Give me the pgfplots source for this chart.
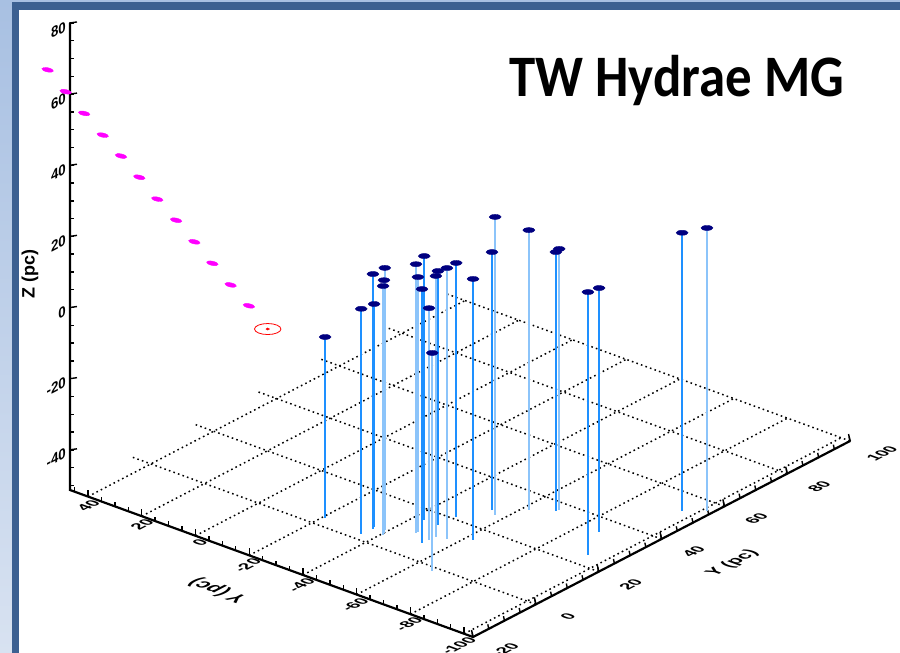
\documentclass[border=0pt]{standalone}
\usepackage{pgfplots}
\pgfplotsset{compat=1.18}
\usepackage{pgfplotstable}
\usepackage{fontspec}
\setmainfont{Liberation Sans}
\newfontfamily\titlefont{Carlito}

\pgfdeclarelayer{background}
\pgfsetlayers{background,main}

\definecolor{framedark}{RGB}{60,96,145}
\definecolor{frametop}{RGB}{168,192,226}
\definecolor{framebot}{RGB}{216,226,241}
\definecolor{dropdark}{RGB}{30,144,255}
\definecolor{droplight}{RGB}{140,196,250}
\definecolor{starnavy}{RGB}{0,0,128}
\definecolor{trackmag}{RGB}{255,0,255}
\definecolor{refred}{RGB}{255,0,0}

% Group members, positions in pc; drop lines in the darker blue
\pgfplotstableread{
x y z
-20.9 3.4 -0.4
-35.5 2.4 12.0
-35.4 6.6 11.4
-36.0 5.7 20.4
-43.4 15.7 22.9
-52.6 7.1 20.1
-48.5 15.7 20.1
-49.1 21.0 20.1
-62.5 14.9 22.1
-54.0 28.2 21.2
-68.4 36.2 21.5
-93.9 24.6 22.6
-86.7 34.3 17.3
-96.0 52.8 26.9
}\groupA

% Group members, drop lines in the lighter blue
\pgfplotstableread{
x y z
-40.7 4.9 18.7
-40.1 5.7 19.8
-39.0 6.9 22.4
-47.1 9.9 24.3
-47.1 10.5 20.4
-52.9 9.1 13.9
-66.6 -1.6 10.0
-53.1 11.1 22.1
-56.4 11.8 24.9
-56.8 26.8 32.5
-62.1 33.0 27.4
-68.7 37.0 22.1
-101.5 56.0 28.3
}\groupB

% Track of magenta points
\pgfplotstableread{
x y z
78.4 0 48.9
71.7 0 44.6
64.8 0 40.4
57.9 0 36.2
51.1 0 32.2
44.3 0 28.1
37.6 0 23.8
30.6 0 19.8
23.8 0 15.6
17.1 0 11.4
10.3 0 7.2
3.5 0 3.2
}\track

\tikzset{
  axline/.style={black, line width=2.2bp, line cap=round},
  tickline/.style={black, line width=1.4bp},
  gridline/.style={black, line width=1.5bp, dash pattern=on 1.6bp off 3.2bp},
  zlab/.style={font=\bfseries\fontsize{15}{15}\selectfont, inner sep=0pt,
    cm={0.8873,0.4613,0,1,(0,0)}},
  floorlab/.style={font=\bfseries\fontsize{16}{16}\selectfont, inner sep=0pt,
    cm={0.8873,0.4613,-0.9395,0.3427,(0,0)}},
}

\begin{document}
\begin{tikzpicture}[x=1bp,y=1bp]
\begin{axis}[
  x={(-2.687bp,0.98bp)}, y={(3.1417bp,1.6333bp)}, z={(0bp,3.557bp)},
  xmin=-103.3, xmax=46.7, ymin=-20, ymax=100, zmin=-51.3, zmax=80,
  hide axis, clip=false, disabledatascaling,
]
\coordinate (C0) at (axis cs:46.7,-20,-51.3);
% floor grid
\pgfplotsinvokeforeach{40,20,0,-20,-40,-60,-80,-100}{
  \draw[gridline] (axis cs:#1,-20,-51.3) -- (axis cs:#1,100,-51.3);
}
\pgfplotsinvokeforeach{0,20,40,60,80,100}{
  \draw[gridline] (axis cs:46.7,#1,-51.3) -- (axis cs:-103.3,#1,-51.3);
}
% axis lines
\draw[axline] (axis cs:46.7,-20,80) -- (axis cs:46.7,-20,-51.3)
  -- (axis cs:-103.3,-20,-51.3) -- (axis cs:-103.3,100,-51.3);
% ticks
\pgfplotsinvokeforeach{-50,-45,...,80}{
  \draw[tickline] (axis cs:46.7,-20,#1) -- ++(4.5bp,0bp);
}
\pgfplotsinvokeforeach{-40,-20,...,80}{
  \draw[tickline] (axis cs:46.7,-20,#1) -- ++(7bp,1bp);
}
\pgfplotsinvokeforeach{-100,-95,...,45}{
  \draw[tickline] (axis cs:#1,-20,-51.3) -- ++(0bp,4.5bp);
}
\pgfplotsinvokeforeach{-100,-80,...,40}{
  \draw[tickline] (axis cs:#1,-20,-51.3) -- ++(0bp,7bp);
}
\pgfplotsinvokeforeach{-20,-15,...,100}{
  \draw[tickline] (axis cs:-103.3,#1,-51.3) -- ++(-1bp,4.5bp);
}
\pgfplotsinvokeforeach{-20,0,...,100}{
  \draw[tickline] (axis cs:-103.3,#1,-51.3) -- ++(-1.5bp,7bp);
}
% tick labels
\pgfplotsinvokeforeach{-40,-20,...,80}{
  \path (axis cs:46.7,-20,#1) ++(-4bp,-3bp) node[zlab, anchor=east] {#1};
}
\pgfplotsinvokeforeach{-100,-80,...,40}{
  \path (axis cs:#1,-20,-51.3) ++(8.5bp,-4.5bp) node[floorlab, anchor=east] {#1};
}
\pgfplotsinvokeforeach{-20,0,...,100}{
  \path (axis cs:-103.3,#1,-51.3) ++(32bp,-12.5bp) node[floorlab] {#1};
}
% axis titles
\path (axis cs:-20,-20,-51.3) ++(-31bp,-35bp)
  node[inner sep=0pt, font=\bfseries\fontsize{20}{20}\selectfont,
       cm={-0.9395,0.3427,-0.8873,-0.4613,(0,0)}] {Y (pc)};
\path (axis cs:-103.3,40,-51.3) ++(71bp,-24bp)
  node[inner sep=0pt, font=\bfseries\fontsize{18}{18}\selectfont,
       cm={0.8873,0.4613,-0.9395,0.3427,(0,0)}] {Y (pc)};

% drop lines to the floor
\addplot3[-, dropdark, line width=1.6bp,
  quiver={u=0, v=0, w=-51.3-\thisrow{z}}] table {\groupA};
\addplot3[-, droplight, line width=1.9bp,
  quiver={u=0, v=0, w=-51.3-\thisrow{z}}] table {\groupB};
% stars
\addplot3[only marks, mark=*, mark size=2.5bp,
  mark options={xscale=2.4, draw=starnavy, fill=starnavy}] table {\groupA};
\addplot3[only marks, mark=*, mark size=2.5bp,
  mark options={xscale=2.4, draw=starnavy, fill=starnavy}] table {\groupB};
% track
\addplot3[only marks, mark=*, mark size=2.1bp,
  mark options={rotate=-12, xscale=2.8, draw=trackmag, fill=trackmag}] table {\track};
% reference position
\addplot3[only marks, mark=o, mark size=5.5bp,
  mark options={xscale=2.4, draw=refred, line width=0.8bp}] coordinates {(-3.5,0,-1.4)};
\addplot3[only marks, mark=*, mark size=1.1bp,
  mark options={xscale=1.6, draw=refred, fill=refred}] coordinates {(-3.5,0,-1.4)};
\end{axis}

% page frame, placed from the axis corner (70,163) of the 900 x 653 page
\path (C0) ++(-70,-163) coordinate (SW);
\begin{pgfonlayer}{background}
\begin{scope}[shift={(SW)}]
\fill[white] (0,0) rectangle (900,653);
\shade[top color=frametop, bottom color=framebot] (0,0) rectangle (12,653);
\fill[frametop] (12,651) rectangle (900,653);
\fill[framedark] (12,0) rectangle (19,651);
\fill[framedark] (12,643) rectangle (900,651);
\end{scope}
\end{pgfonlayer}
\begin{scope}[shift={(SW)}]
\node[anchor=base west, inner sep=0pt, xscale=0.9,
  font=\titlefont\bfseries\fontsize{59}{59}\selectfont] at (509.3,556.3) {TW Hydrae MG};
\node[rotate=90, inner sep=0pt, font=\bfseries\fontsize{18}{18}\selectfont] at (30,379) {Z (pc)};
\end{scope}

\pgfresetboundingbox
\useasboundingbox (SW) rectangle ++(900,653);
\end{tikzpicture}
\end{document}
